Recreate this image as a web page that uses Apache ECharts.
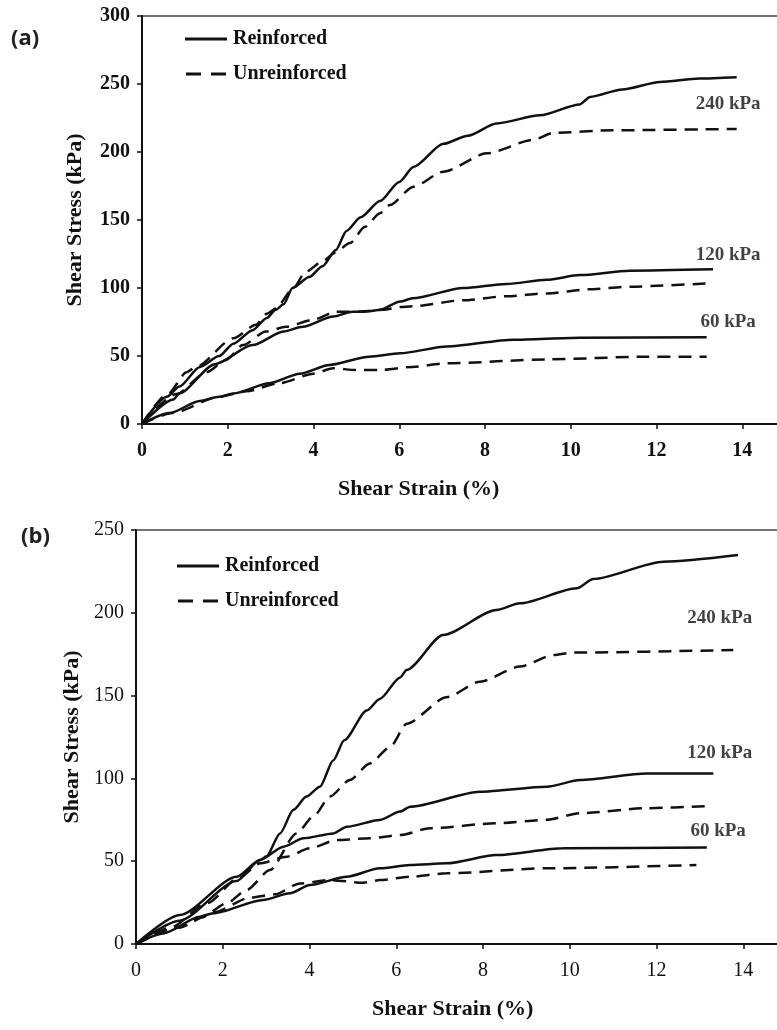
<!DOCTYPE html>
<html>
<head>
<meta charset="utf-8">
<script src="https://cdn.jsdelivr.net/npm/echarts@6/dist/echarts.min.js"></script>
<style>
html, body { margin: 0; padding: 0; background: #fff; }
#chart { width: 777px; height: 1030px; }
</style>
</head>
<body>
<div id="chart"></div>
<script>
// Panel (a): shear strain (%) vs shear stress (kPa), normal stress 60/120/240 kPa
const aReinforced240 = [[0,0],[0.58,20],[0.87,27.5],[1.35,42],[1.8,50],[2.13,59],[2.58,69],[2.91,78],[3.12,84],[3.3,88],[3.51,100],[3.9,108],[4.21,116],[4.52,128],[4.77,142],[5.1,152],[5.55,164],[6.0,178],[6.33,189],[7.03,206],[7.6,212],[8.27,221],[9.28,227],[10.21,235],[10.45,240.5],[11.2,246],[12.08,251.5],[13.0,254],[13.87,255]];
const aUnreinforced240 = [[0,0],[0.6,22],[1.04,38],[1.26,42],[2.13,63],[2.66,73],[2.91,81],[3.12,85],[3.51,99],[3.82,112],[4.23,120],[4.5,126],[4.85,133],[5.2,145],[5.55,155],[5.78,161],[6.33,174.5],[7.03,185.5],[8.04,199],[9.13,209],[9.59,214],[10.99,216],[13.87,217]];
const aReinforced120 = [[0,0],[0.73,18],[0.87,22.5],[1.7,44],[2.58,58],[3.3,68],[3.75,71.5],[4.46,79],[4.91,82.6],[5.3,83],[5.55,84],[6.02,90],[6.31,92.4],[7.49,100],[8.5,103],[9.44,106],[10.21,109.5],[11.38,112.7],[13.32,113.7]];
const aUnreinforced120 = [[0,0],[0.8,22],[1.5,38],[1.96,47],[2.35,58],[2.89,68],[3.36,71.5],[3.98,76.5],[4.52,82.6],[5.15,82.6],[5.63,84],[6.02,86],[6.31,86.5],[7.49,91],[8.5,94],[9.44,96],[10.4,99],[11.38,101],[13.17,103.4]];
const aReinforced60 = [[0,0],[0.64,8],[1.35,17],[1.8,20],[2.13,22.5],[2.97,30],[3.68,37],[4.37,43.4],[5.3,49.5],[6.02,52],[7.11,57],[8.66,62],[10.21,63.5],[13.17,63.7]];
const aUnreinforced60 = [[0,0],[0.7,8],[1.8,20],[2.43,24],[3.2,30],[4.0,37],[4.45,41],[4.99,39.7],[5.55,39.7],[6.31,42],[7.11,44.6],[9.44,47.5],[11.77,49.5],[13.17,49.5]];

// Panel (b)
const bReinforced240 = [[0,0],[1.01,17.5],[2.32,40.6],[2.86,50.7],[3.01,53],[3.32,66.8],[3.63,81],[3.93,89],[4.24,95],[4.55,111],[4.8,123],[5.32,141],[5.62,148],[6.09,161],[6.24,165.5],[7.08,186.6],[8.31,201.7],[8.85,205.7],[10.16,214.8],[10.54,220.4],[12.16,230.9],[13.88,234.9]];
const bUnreinforced240 = [[0,0],[1.0,10],[1.5,16],[2.09,24.6],[2.55,32.6],[3.09,44.7],[3.7,66.8],[4.09,77],[4.47,89],[4.93,99],[5.39,109],[5.86,119],[6.24,133],[7.16,149],[7.93,158.4],[8.85,167.5],[9.62,174.5],[10.08,176],[13.77,177.5]];
const bReinforced120 = [[0,0],[1.0,14],[2.32,38],[2.86,50.7],[3.4,58.8],[3.86,63.8],[4.55,66.8],[4.86,70.8],[5.62,74.9],[6.09,80],[6.32,82.9],[7.93,92],[9.47,95],[10.24,99],[11.77,103],[13.31,103]];
const bUnreinforced120 = [[0,0],[0.8,10],[1.63,24.6],[2.4,40.6],[2.86,48.7],[3.47,52.7],[4.01,57.8],[4.63,62.8],[5.39,63.8],[6.09,65.8],[6.78,69.9],[8.31,72.9],[9.47,75],[10.24,79],[11.77,82],[13.16,83.3]];
const bReinforced60 = [[0,0],[0.63,6.4],[1.47,16.5],[1.78,18.5],[2.93,26.6],[3.55,30.6],[4.01,35.6],[4.86,40.6],[5.62,45.7],[6.32,47.7],[7.16,48.7],[8.31,53.7],[9.85,57.8],[13.16,58.2]];
const bUnreinforced60 = [[0,0],[1.0,10],[1.78,19],[2.63,28],[3.2,30],[3.78,36.6],[4.47,38.6],[5.24,37],[5.62,38.6],[6.32,40.6],[7.16,42.7],[9.47,45.7],[12.92,47.7]];

const seriesNames = ['Reinforced', 'Unreinforced'];
const pressureNames = ['240 kPa', '120 kPa', '60 kPa'];
const xTitle = 'Shear Strain (%)';
const yTitle = 'Shear Stress (kPa)';

const SERIF = '"Liberation Serif", "Times New Roman", serif';
const INK = '#111';

// legend keys: a plain bar for the solid curves, two bars for the dashed ones
const SOLID_KEY = 'path://M0,0h42v3h-42z';
const DASH_KEY = 'path://M0,0h15v3h-15z M25,0h15v3h-15z';

function curve(name, data, g) {
  const dashed = name === seriesNames[1];
  return {
    type: 'line', name, data,
    xAxisIndex: g, yAxisIndex: g,
    symbol: 'none', showSymbol: false,
    smooth: 0.25, smoothMonotone: 'x',
    lineStyle: { color: INK, width: 2.5, type: dashed ? [13, 8] : 'solid' },
    itemStyle: { color: INK },
    silent: true, animation: false, z: 3
  };
}

// pressure tags placed in data space next to the curve ends
function tags(g, anchors) {
  return {
    type: 'scatter', xAxisIndex: g, yAxisIndex: g,
    symbolSize: 0, silent: true, animation: false,
    data: anchors.map((p, i) => ({ value: p, name: pressureNames[i] })),
    label: {
      show: true, position: 'inside', formatter: '{b}',
      fontFamily: SERIF, fontWeight: 'bold', fontSize: 19, color: INK
    }
  };
}

function xAxis(g, boldLabels) {
  return {
    type: 'value', gridIndex: g, min: 0, max: 16, interval: 2,
    axisLine: { show: true, onZero: false, lineStyle: { color: INK, width: 2 } },
    axisTick: { show: true, length: 5, lineStyle: { color: INK, width: 1.5 } },
    axisLabel: { fontFamily: SERIF, fontWeight: boldLabels ? 'bold' : 'normal', fontSize: 20, color: INK, margin: 17 },
    splitLine: { show: false }
  };
}

function yAxis(g, max, boldLabels, gap) {
  return {
    type: 'value', gridIndex: g, min: 0, max, interval: 50,
    name: yTitle, nameLocation: 'middle', nameRotate: 90, nameGap: gap,
    nameTextStyle: { fontFamily: SERIF, fontWeight: 'bold', fontSize: 22, color: INK },
    axisLine: { show: true, lineStyle: { color: INK, width: 2 } },
    axisTick: { show: true, length: 5, lineStyle: { color: INK, width: 1.5 } },
    axisLabel: { fontFamily: SERIF, fontWeight: boldLabels ? 'bold' : 'normal', fontSize: 20, color: INK, margin: 12 },
    splitLine: { show: false }
  };
}

function legend(left, top) {
  return {
    data: [
      { name: seriesNames[0], icon: SOLID_KEY },
      { name: seriesNames[1], icon: DASH_KEY }
    ],
    orient: 'vertical', left, top,
    itemWidth: 42, itemHeight: 3, itemGap: 15,
    selectedMode: false,
    itemStyle: { color: INK, borderWidth: 0 },
    textStyle: { fontFamily: SERIF, fontWeight: 'bold', fontSize: 20, color: INK, padding: [0, 0, 0, 1] }
  };
}

const chart = echarts.init(document.getElementById('chart'), null, { renderer: 'canvas' });
chart.setOption({
  backgroundColor: '#fff',
  animation: false,
  grid: [
    { left: 142, top: 16, width: 686, height: 408, outerBoundsMode: 'none', containLabel: false,
      show: true, borderColor: '#444', borderWidth: 1.5, backgroundColor: 'transparent' },
    { left: 136, top: 530, width: 694, height: 414, outerBoundsMode: 'none', containLabel: false,
      show: true, borderColor: '#444', borderWidth: 1.5, backgroundColor: 'transparent' }
  ],
  xAxis: [xAxis(0, true), xAxis(1, false)],
  yAxis: [yAxis(0, 300, true, 56), yAxis(1, 250, false, 52)],
  legend: [legend(180, 24), legend(172, 551)],
  graphic: [
    { type: 'text', left: 11, top: 28, style: { text: '(a)', font: 'bold 22px "Open Sans", "Liberation Sans", sans-serif', fill: '#222' } },
    { type: 'text', left: 21, top: 526, style: { text: '(b)', font: 'bold 22px "Open Sans", "Liberation Sans", sans-serif', fill: '#222' } },
    { type: 'text', left: 338, top: 478, style: { text: xTitle, font: 'bold 22px ' + SERIF, fill: INK } },
    { type: 'text', left: 372, top: 998, style: { text: xTitle, font: 'bold 22px ' + SERIF, fill: INK } }
  ],
  series: [
    curve(seriesNames[0], aReinforced240, 0),
    curve(seriesNames[1], aUnreinforced240, 0),
    curve(seriesNames[0], aReinforced120, 0),
    curve(seriesNames[1], aUnreinforced120, 0),
    curve(seriesNames[0], aReinforced60, 0),
    curve(seriesNames[1], aUnreinforced60, 0),
    tags(0, [[13.67, 235], [13.67, 124], [13.67, 75]]),
    curve(seriesNames[0], bReinforced240, 1),
    curve(seriesNames[1], bUnreinforced240, 1),
    curve(seriesNames[0], bReinforced120, 1),
    curve(seriesNames[1], bUnreinforced120, 1),
    curve(seriesNames[0], bReinforced60, 1),
    curve(seriesNames[1], bUnreinforced60, 1),
    tags(1, [[13.46, 197], [13.46, 115], [13.42, 68]])
  ]
});
</script>
</body>
</html>
